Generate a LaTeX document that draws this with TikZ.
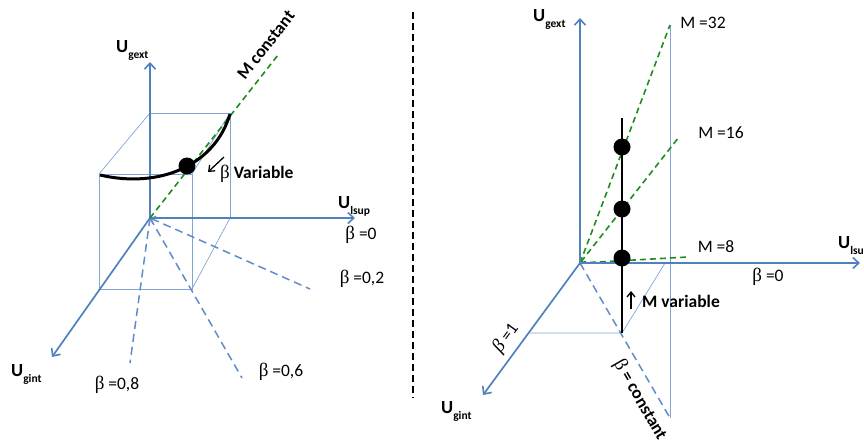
\documentclass[tikz,border=0pt]{standalone}
\usepackage{fontspec}
\setmainfont{Carlito}
\newfontfamily\grk{Liberation Serif}
\usetikzlibrary{arrows.meta}
\definecolor{axisblue}{RGB}{79,129,189}
\definecolor{thinblue}{RGB}{130,165,212}
\definecolor{dashblue}{RGB}{95,140,200}
\definecolor{mgreen}{RGB}{30,140,30}
\tikzset{
  axis/.style={axisblue,line width=1.7pt,-{Straight Barb[length=6pt,width=11pt,line width=1.6pt]}},
  thin/.style={thinblue,line width=0.7pt},
  bdash/.style={dashblue,line width=1.5pt,dash pattern=on 8pt off 5pt},
  gdash/.style={mgreen,line width=1.6pt,dash pattern=on 6pt off 4pt},
  lbl/.style={font=\fontsize{17.5}{20}\selectfont,inner sep=0pt},
  blbl/.style={font=\fontsize{17.5}{20}\selectfont\bfseries,inner sep=0pt},
  axlbl/.style={font=\fontsize{18.5}{20}\selectfont\bfseries,inner sep=0pt,anchor=base west},
  dot/.style={circle,fill=black,minimum size=17pt,inner sep=0pt},
  smallarrow/.style={black,line width=1.3pt,-{Straight Barb[length=5pt,width=8pt,line width=1.3pt]}}
}
\newcommand{\sub}[1]{\raisebox{-0.35em}{\fontsize{11.5}{12}\selectfont #1}}
\newcommand{\bt}{{\grk\fontseries{m}\fontsize{19}{20}\selectfont β}}
\begin{document}
\begin{tikzpicture}[x=1pt,y=-1pt]
\useasboundingbox (0,0) rectangle (864,445);
% ---------------- left panel ----------------
\coordinate (O) at (150,218);
\coordinate (Z) at (150,62);
\coordinate (X) at (355,218);
\coordinate (Y) at (52,357);
% cube
\coordinate (btl) at (150,113);
\coordinate (btr) at (230,113);
\coordinate (bbr) at (230,218);
\coordinate (ftl) at (99,174);
\coordinate (ftr) at (192,174);
\coordinate (fbl) at (99,289);
\coordinate (fbr) at (192,289);
\draw[thin] (btl) -- (btr) -- (bbr);
\draw[thin] (ftl) rectangle (fbr);
\draw[thin] (btl) -- (ftl);
\draw[thin] (btr) -- (ftr);
\draw[thin] (bbr) -- (fbr);
% beta dashed lines
\coordinate (b2) at (310,289);
\coordinate (b6) at (242,378);
\coordinate (b8) at (130,363);
\draw[bdash,{Straight Barb[length=4pt,width=8pt,line width=1.3pt]}-] (O) -- (b2);
\draw[bdash] (O) -- (b6);
\draw[bdash] (O) -- (b8);
% axes
\draw[axis] (O) -- (Z);
\draw[axis] (O) -- (X);
\draw[axis] (O) -- (Y);
% M constant green line
\coordinate (G) at (278,55);
\draw[gdash] (O) -- (G);
% curve
\coordinate (c0) at (100,175);
\coordinate (c1) at (230,114);
\draw[black,line width=3pt] (c0) .. controls (160,189) and (215,165) .. (c1);
\node[dot] (d1) at (187,166) {};
% labels
\node[axlbl] (lgext) at (116,52) {U\sub{gext}};
\node[axlbl] (llsup) at (338,208) {U\sub{lsup}};
\node[axlbl] (lgint) at (11,376) {U\sub{gint}};
\node[lbl] (lb0) at (361,235) {\bt\ =0};
\node[lbl] (lb2) at (362,279) {\bt\ =0,2};
\node[lbl] (lb6) at (281,372) {\bt\ =0,6};
\node[lbl] (lb8) at (117,385) {\bt\ =0,8};
\node[blbl,rotate=52] (lmc) at (266,45) {M constant};
\node[blbl,anchor=west] (lbv) at (220,174) {\bt\ Variable};
\coordinate (a1s) at (224,157);
\coordinate (a1e) at (208,172);
\draw[smallarrow] (a1s) -- (a1e);
% separator
\coordinate (s1) at (413,12);
\coordinate (s2) at (413,398);
\draw[black,line width=1.8pt,dash pattern=on 7pt off 4pt] (s1) -- (s2);
% ---------------- right panel ----------------
\coordinate (R) at (580,263);
\coordinate (RZ) at (580,18);
\coordinate (RX) at (860,263);
\coordinate (RY) at (483,395);
\coordinate (v1) at (670,25);
\coordinate (v2) at (670,418);
\coordinate (p1) at (665,263);
\coordinate (p2) at (622,333);
\coordinate (p3) at (530,333);
\draw[thin] (v1) -- (v2);
\draw[thin] (p1) -- (p2) -- (p3);
\draw[bdash] (R) -- (v2);
% green lines
\coordinate (m32) at (670,25);
\coordinate (m16) at (679,137);
\coordinate (m8) at (688,257);
\draw[gdash] (R) -- (m32);
\draw[gdash,{Straight Barb[length=4pt,width=8pt,line width=1.3pt]}-] (R) -- (m16);
\draw[gdash] (R) -- (m8);
% axes
\draw[axis] (R) -- (RZ);
\draw[axis] (R) -- (RX);
\draw[axis] (R) -- (RY);
% black vertical
\coordinate (k1) at (622,118);
\draw[black,line width=2.4pt] (k1) -- (p2);
\node[dot] (e1) at (622,147) {};
\node[dot] (e2) at (622,209) {};
\node[dot] (e3) at (622,258) {};
% labels
\node[axlbl] (rgext) at (533,21) {U\sub{gext}};
\node[axlbl] (rlsup) at (838,248) {U\sub{lsup}};
\node[axlbl] (rgint) at (441,413) {U\sub{gint}};
\node[lbl] (r32) at (703,23) {M =32};
\node[lbl] (r16) at (721,133) {M =16};
\node[lbl] (r8) at (716,247) {M =8};
\node[lbl] (rb0) at (768,277) {\bt\ =0};
\node[blbl,anchor=west] (rmv) at (642,301) {M variable};
\coordinate (a2s) at (631,309);
\coordinate (a2e) at (631,291);
\draw[smallarrow] (a2s) -- (a2e);
\node[lbl,rotate=54] (rb1) at (506,338) {{\grk\itshape\fontsize{19}{20}\selectfont β} =1};
\node[blbl,rotate=-60] (rbc) at (640,400) {\bt\ = constant};
\end{tikzpicture}
\end{document}
